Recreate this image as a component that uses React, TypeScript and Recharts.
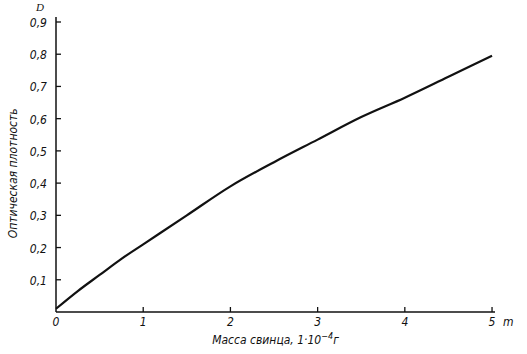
import { LineChart, Line, XAxis, YAxis, Label } from 'recharts';

// Mass of lead (x, units of 1e-4 g) vs optical density D
const massValues = [0, 0.25, 0.5, 0.75, 1, 1.5, 2, 2.5, 3, 3.5, 4, 4.5, 5];
const densityValues = [0.01, 0.065, 0.115, 0.165, 0.21, 0.3, 0.39, 0.465, 0.535, 0.605, 0.665, 0.73, 0.795];

const xTicks = [0, 1, 2, 3, 4, 5];
const yTicks = [0.1, 0.2, 0.3, 0.4, 0.5, 0.6, 0.7, 0.8, 0.9];

const data = massValues.map((m, i) => ({ m, d: densityValues[i] }));

const FONT = '"Liberation Sans Narrow", "DejaVu Sans Condensed", "Liberation Sans", sans-serif';
const INK = '#111';
const TICK_MARGIN = 8;

const fmt = (v: number) => String(v).replace('.', ',');

const YTick = ({ x, y, payload }: any) => {
  const axisX = x + TICK_MARGIN;
  return (
    <g>
      <line x1={axisX} y1={y} x2={axisX + 5} y2={y} stroke={INK} strokeWidth={1.3} />
      <text x={x - 1} y={y + 5} textAnchor="end" fontFamily={FONT} fontStyle="italic" fontSize={12} fill={INK}>
        {fmt(payload.value)}
      </text>
    </g>
  );
};

const XTick = ({ x, y, payload }: any) => {
  const axisY = y - TICK_MARGIN;
  return (
    <g>
      {payload.value !== 0 && (
        <line x1={x} y1={axisY} x2={x} y2={axisY - 5} stroke={INK} strokeWidth={1.3} />
      )}
      <text x={x} y={y + 6} textAnchor="middle" fontFamily={FONT} fontStyle="italic" fontSize={12} fill={INK}>
        {fmt(payload.value)}
      </text>
    </g>
  );
};

const YLabel = ({ viewBox }: any) => {
  const { x, y, height } = viewBox;
  const cx = x + 17;
  const cy = y + height * 0.53;
  return (
    <g>
      <text x={cx} y={cy} transform={`rotate(-90 ${cx} ${cy})`} textAnchor="middle" fontFamily={FONT} fontStyle="italic" fontSize={12} fill={INK}>
        Оптическая плотность
      </text>
      <text x={x + 40} y={y - 6} textAnchor="middle" fontFamily="'Liberation Serif', serif" fontStyle="italic" fontSize={11} fill={INK}>
        D
      </text>
    </g>
  );
};

const XLabel = ({ viewBox }: any) => {
  const { x, y, width } = viewBox;
  return (
    <g>
      <text x={x + width * 0.5} y={y + 32} textAnchor="middle" fontFamily={FONT} fontStyle="italic" fontSize={12} fill={INK}>
        Масса свинца, 1·10
        <tspan dy={-5} fontSize={9}>−4</tspan>
        <tspan dy={5}>г</tspan>
      </text>
      <text x={x + width + 8} y={y + 14} textAnchor="start" fontFamily={FONT} fontStyle="italic" fontSize={12} fill={INK}>
        m
      </text>
    </g>
  );
};

export default function App() {
  return (
    <div style={{ position: 'absolute', left: 0, top: 0, background: '#fff' }}>
      <LineChart width={527} height={354} data={data} margin={{ top: 17, right: 32, bottom: 12, left: 0 }}>
        <XAxis
          dataKey="m"
          type="number"
          domain={[0, 5.034]}
          ticks={xTicks}
          tick={<XTick />}
          tickLine={false}
          tickSize={0}
          tickMargin={TICK_MARGIN}
          axisLine={{ stroke: INK, strokeWidth: 1.5 }}
          height={30}
          interval={0}
        >
          <Label content={<XLabel />} />
        </XAxis>
        <YAxis
          type="number"
          domain={[0, 0.9155]}
          ticks={yTicks}
          tick={<YTick />}
          tickLine={false}
          tickSize={0}
          tickMargin={TICK_MARGIN}
          axisLine={{ stroke: INK, strokeWidth: 1.5 }}
          width={56}
          interval={0}
        >
          <Label content={<YLabel />} />
        </YAxis>
        <Line
          type="monotone"
          dataKey="d"
          stroke={INK}
          strokeWidth={2.2}
          dot={false}
          isAnimationActive={false}
        />
      </LineChart>
    </div>
  );
}
